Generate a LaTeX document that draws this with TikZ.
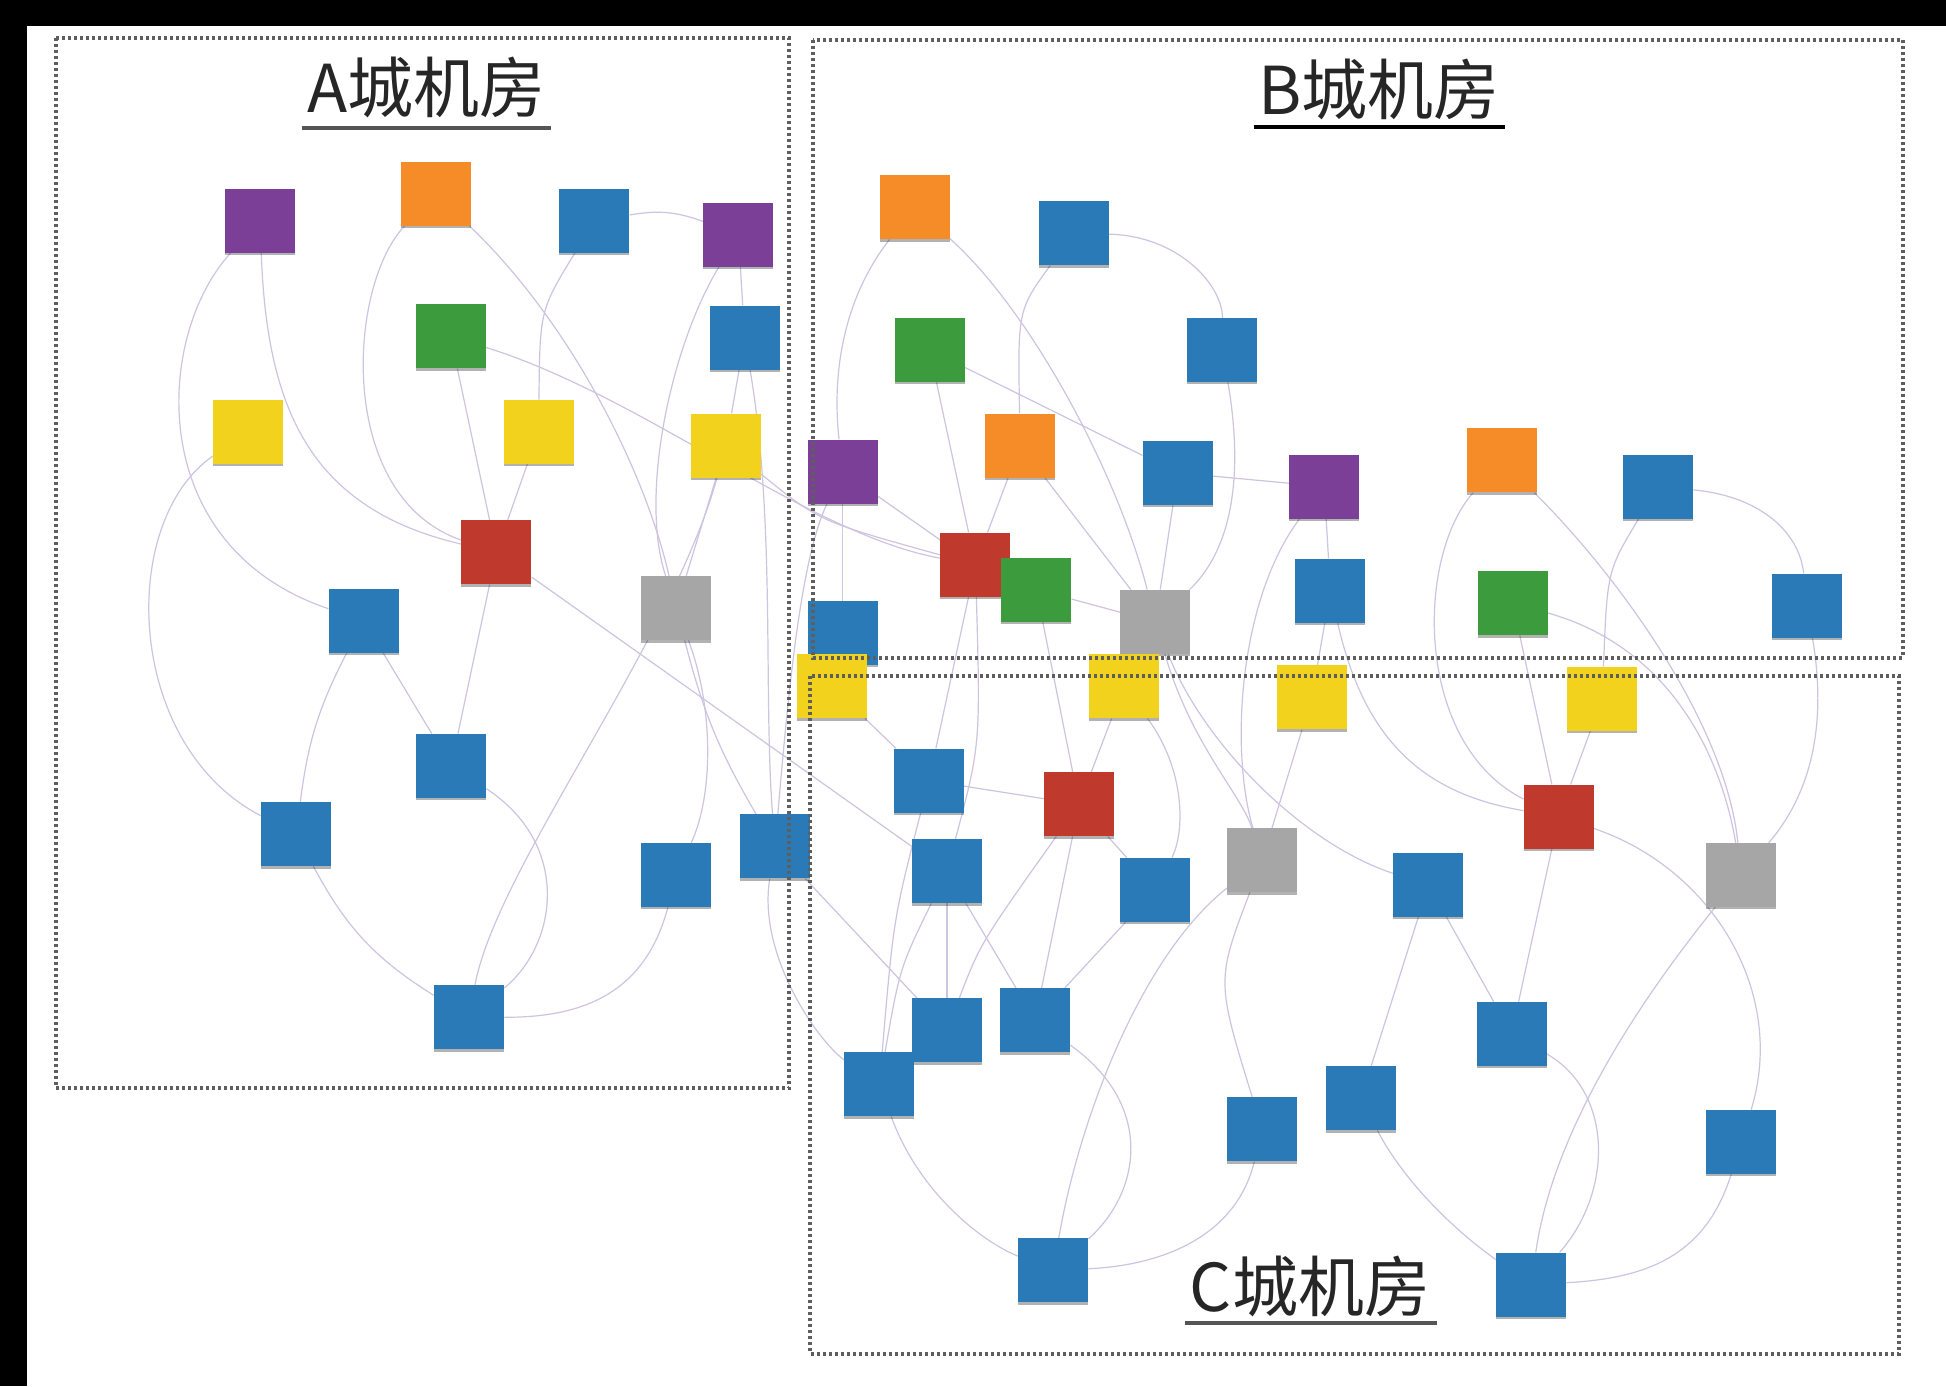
\documentclass[tikz,border=0pt]{standalone}
\usepackage{fontspec}
\newfontfamily\cjkfont{Noto Sans CJK SC}
\usetikzlibrary{backgrounds,shadows}
\definecolor{nblue}{HTML}{2A7AB8}
\definecolor{npurple}{HTML}{7B3F98}
\definecolor{norange}{HTML}{F58C28}
\definecolor{ngreen}{HTML}{3C9B3C}
\definecolor{nyellow}{HTML}{F3D21E}
\definecolor{nred}{HTML}{BF3A2D}
\definecolor{ngray}{HTML}{A6A6A6}
\definecolor{edgec}{HTML}{CCC4E0}
\definecolor{dotc}{HTML}{5E5E5E}
\definecolor{ulgray}{HTML}{555555}
\begin{document}
\begin{tikzpicture}[x=1.24107pt,y=-1.24107pt,
  sq/.style={minimum width=70pt,minimum height=64pt,inner sep=0pt,draw=none,
    drop shadow={shadow xshift=0pt,shadow yshift=-2.5pt,opacity=0.3,fill=black}},
  bl/.style={sq,fill=nblue},
  pu/.style={sq,fill=npurple},
  orn/.style={sq,fill=norange},
  gr/.style={sq,fill=ngreen},
  ye/.style={sq,fill=nyellow},
  rd/.style={sq,fill=nred},
  gy/.style={sq,fill=ngray},
  edge/.style={draw=edgec,line width=1.2pt},
  room/.style={draw=dotc,line width=4pt,dash pattern=on 3pt off 3pt},
  roomtitle/.style={font=\cjkfont\fontsize{66}{70}\selectfont,inner sep=0pt,anchor=base,text=black!85},
  uline/.style={line width=4pt}]
\useasboundingbox (0,0) rectangle (1568,1117);
% ---------- A nodes
\node[pu]  (p1)  at (209.6,178) {};
\node[orn] (o2)  at (351,156) {};
\node[bl]  (b3)  at (479,178) {};
\node[pu]  (p4)  at (595,189) {};
\node[gr]  (g5)  at (363,271) {};
\node[bl]  (b6)  at (600,272) {};
\node[ye]  (y7)  at (200,348) {};
\node[ye]  (y8)  at (434,348) {};
\node[ye]  (y9)  at (585,359) {};
\node[rd]  (r10) at (400,445) {};
\node[gy]  (g11) at (545,490) {};
\node[bl]  (b12) at (293,500) {};
\node[bl]  (b13) at (363.5,617) {};
\node[bl]  (b14) at (238.5,672) {};
\node[bl]  (b15) at (545,705) {};
\node[bl]  (b16) at (624.5,682) {};
\node[bl]  (b17) at (378,819.5) {};
% ---------- B nodes
\node[orn] (o18) at (737,167) {};
\node[bl]  (b19) at (865,188) {};
\node[gr]  (g20) at (749,282) {};
\node[bl]  (b21) at (985,282) {};
\node[orn] (o22) at (822,359) {};
\node[pu]  (p23) at (679,380) {};
\node[bl]  (b24) at (949,381) {};
\node[pu]  (p25) at (1067,392) {};
\node[orn] (o26) at (1210,371) {};
\node[bl]  (b27) at (1336,392) {};
\node[rd]  (r28) at (786,455) {};
\node[gr]  (g29) at (835,475) {};
\node[gy]  (g30) at (931,501) {};
\node[bl]  (b31) at (1072,476) {};
\node[gr]  (g32) at (1219,486) {};
\node[bl]  (b33) at (1456,488) {};
\node[bl]  (b34) at (679,510) {};
% ---------- C nodes
\node[ye]  (y35) at (670.5,553) {};
\node[ye]  (y36) at (905.5,553) {};
\node[ye]  (y37) at (1057,562) {};
\node[ye]  (y38) at (1291,563) {};
\node[bl]  (b39) at (748.5,629) {};
\node[rd]  (r40) at (869.5,648) {};
\node[rd]  (r41) at (1256,658) {};
\node[bl]  (b42) at (763,702) {};
\node[gy]  (g43) at (1017,693) {};
\node[bl]  (b44) at (931,717) {};
\node[bl]  (b45) at (1151,713) {};
\node[gy]  (g46) at (1403,705) {};
\node[bl]  (b47) at (763,830) {};
\node[bl]  (b48) at (834,822) {};
\node[bl]  (b49) at (708.6,873.6) {};
\node[bl]  (b50) at (1218,833) {};
\node[bl]  (b51) at (1096.6,885) {};
\node[bl]  (b52) at (1017,910) {};
\node[bl]  (b53) at (1403,920) {};
\node[bl]  (b54) at (848.6,1023.5) {};
\node[bl]  (b55) at (1233.8,1035) {};
% ---------- background and edges
\begin{scope}[on background layer]
\fill[white] (0,0) rectangle (1568,1117);
\fill[black] (0,0) rectangle (1568,21);
\fill[black] (0,0) rectangle (22,1117);
% A
\draw[edge] (p1) .. controls (215,330) and (250,410) .. (r10);
\draw[edge] (p1) .. controls (125,270) and (115,440) .. (b12);
\draw[edge] (y7) .. controls (95,420) and (100,600) .. (b14);
\draw[edge] (o2) .. controls (280,230) and (270,400) .. (r10);
\draw[edge] (o2) .. controls (460,260) and (520,380) .. (g11);
\draw[edge] (b3) to[bend left=15] (p4);
\draw[edge] (b3) .. controls (435,250) .. (y8);
\draw[edge] (p4) -- (b6);
\draw[edge] (p4) .. controls (540,280) and (515,400) .. (g11);
\draw[edge] (g5) -- (r10);
\draw[edge] (g5) .. controls (520,320) and (650,430) .. (r28);
\draw[edge] (y8) -- (r10);
\draw[edge] (b6) -- (y9);
\draw[edge] (b6) .. controls (625,420) and (615,560) .. (b16);
\draw[edge] (y9) -- (g11);
\draw[edge] (b17) .. controls (400,700) and (540,520) .. (y9);
\draw[edge] (r10) -- (b13);
\draw[edge] (r10) -- (b42);
\draw[edge] (b12) -- (b13);
\draw[edge] (b12) to[bend right=10] (b14);
\draw[edge] (b14) to[bend right=15] (b17);
\draw[edge] (b13) .. controls (460,680) and (450,760) .. (b17);
\draw[edge] (b15) .. controls (520,800) and (470,820) .. (b17);
\draw[edge] (g11) .. controls (575,570) and (575,640) .. (b15);
\draw[edge] (g11) to[bend right=8] (b16);
\draw[edge] (b16) .. controls (610,770) and (660,840) .. (b49);
\draw[edge] (y9) .. controls (660,420) .. (r28);
\draw[edge] (p23) .. controls (645,450) and (635,560) .. (b16);
\draw[edge] (b16) -- (b47);
% B
\draw[edge] (o18) .. controls (680,240) and (670,300) .. (p23);
\draw[edge] (o18) .. controls (830,250) and (900,380) .. (g30);
\draw[edge] (b19) .. controls (820,250) .. (o22);
\draw[edge] (b19) .. controls (950,190) and (985,230) .. (b21);
\draw[edge] (g20) -- (b24);
\draw[edge] (b24) -- (p25);
\draw[edge] (g20) -- (r28);
\draw[edge] (b21) .. controls (1005,400) and (985,450) .. (g30);
\draw[edge] (o22) -- (r28);
\draw[edge] (o22) -- (g30);
\draw[edge] (p23) -- (b34);
\draw[edge] (p23) -- (r28);
\draw[edge] (b24) -- (g30);
\draw[edge] (p25) -- (b31);
\draw[edge] (p25) .. controls (1000,480) and (990,600) .. (g43);
\draw[edge] (o26) .. controls (1140,450) and (1140,600) .. (r41);
\draw[edge] (o26) .. controls (1300,460) and (1390,580) .. (g46);
\draw[edge] (b27) .. controls (1295,460) .. (y38);
\draw[edge] (b27) .. controls (1420,400) and (1450,430) .. (b33);
\draw[edge] (g32) .. controls (1340,520) and (1385,600) .. (g46);
\draw[edge] (g32) -- (r41);
\draw[edge] (b33) .. controls (1475,600) and (1450,650) .. (g46);
\draw[edge] (b31) -- (y37);
\draw[edge] (r28) -- (b39);
\draw[edge] (r28) .. controls (790,600) .. (b42);
\draw[edge] (g29) -- (r40);
\draw[edge] (g29) -- (g30);
\draw[edge] (g30) .. controls (960,600) and (1000,640) .. (g43);
\draw[edge] (y35) -- (b39);
% C
\draw[edge] (b39) -- (r40);
\draw[edge] (b39) .. controls (720,740) .. (b49);
\draw[edge] (b42) .. controls (725,780) .. (b49);
\draw[edge] (b42) -- (b47);
\draw[edge] (b42) -- (b48);
\draw[edge] (r40) -- (b48);
\draw[edge] (r40) .. controls (790,760) .. (b47);
\draw[edge] (r40) -- (b44);
\draw[edge] (b44) -- (b48);
\draw[edge] (g43) .. controls (920,770) and (870,900) .. (b54);
\draw[edge] (g43) .. controls (980,790) .. (b52);
\draw[edge] (y37) -- (g43);
\draw[edge] (b45) -- (b51);
\draw[edge] (b45) -- (b50);
\draw[edge] (g30) .. controls (970,600) and (1050,680) .. (b45);
\draw[edge] (r41) -- (b50);
\draw[edge] (r41) .. controls (1380,700) and (1440,800) .. (b53);
\draw[edge] (b31) .. controls (1100,600) and (1150,640) .. (r41);
\draw[edge] (g46) .. controls (1310,820) and (1250,920) .. (b55);
\draw[edge] (b50) .. controls (1300,880) and (1300,960) .. (b55);
\draw[edge] (b53) .. controls (1375,1010) and (1330,1030) .. (b55);
\draw[edge] (b51) .. controls (1130,950) and (1170,990) .. (b55);
\draw[edge] (b52) .. controls (995,1000) and (930,1020) .. (b54);
\draw[edge] (b49) .. controls (740,960) and (790,1000) .. (b54);
\draw[edge] (b48) .. controls (930,890) and (920,960) .. (b54);
\draw[edge] (y36) -- (r40);
\draw[edge] (y36) .. controls (955,620) and (955,670) .. (b44);
\draw[edge] (y38) -- (r41);
\end{scope}
% ---------- rooms
\draw[room] (45,31) rectangle (636,877);
\draw[room] (655,32) rectangle (1533,530);
\draw[room] (653,545) rectangle (1530,1091);
\node[roomtitle] (ta) at (343.5,91) {A城机房};
\node[roomtitle] (tb) at (1111,92) {B城机房};
\node[roomtitle] (tc) at (1055.5,1057) {C城机房};
\draw[uline,ulgray] (243,103) -- (444,103);
\draw[uline,black] (1010,102) -- (1213,102);
\draw[uline,ulgray] (955,1066) -- (1158,1066);
\end{tikzpicture}
\end{document}
